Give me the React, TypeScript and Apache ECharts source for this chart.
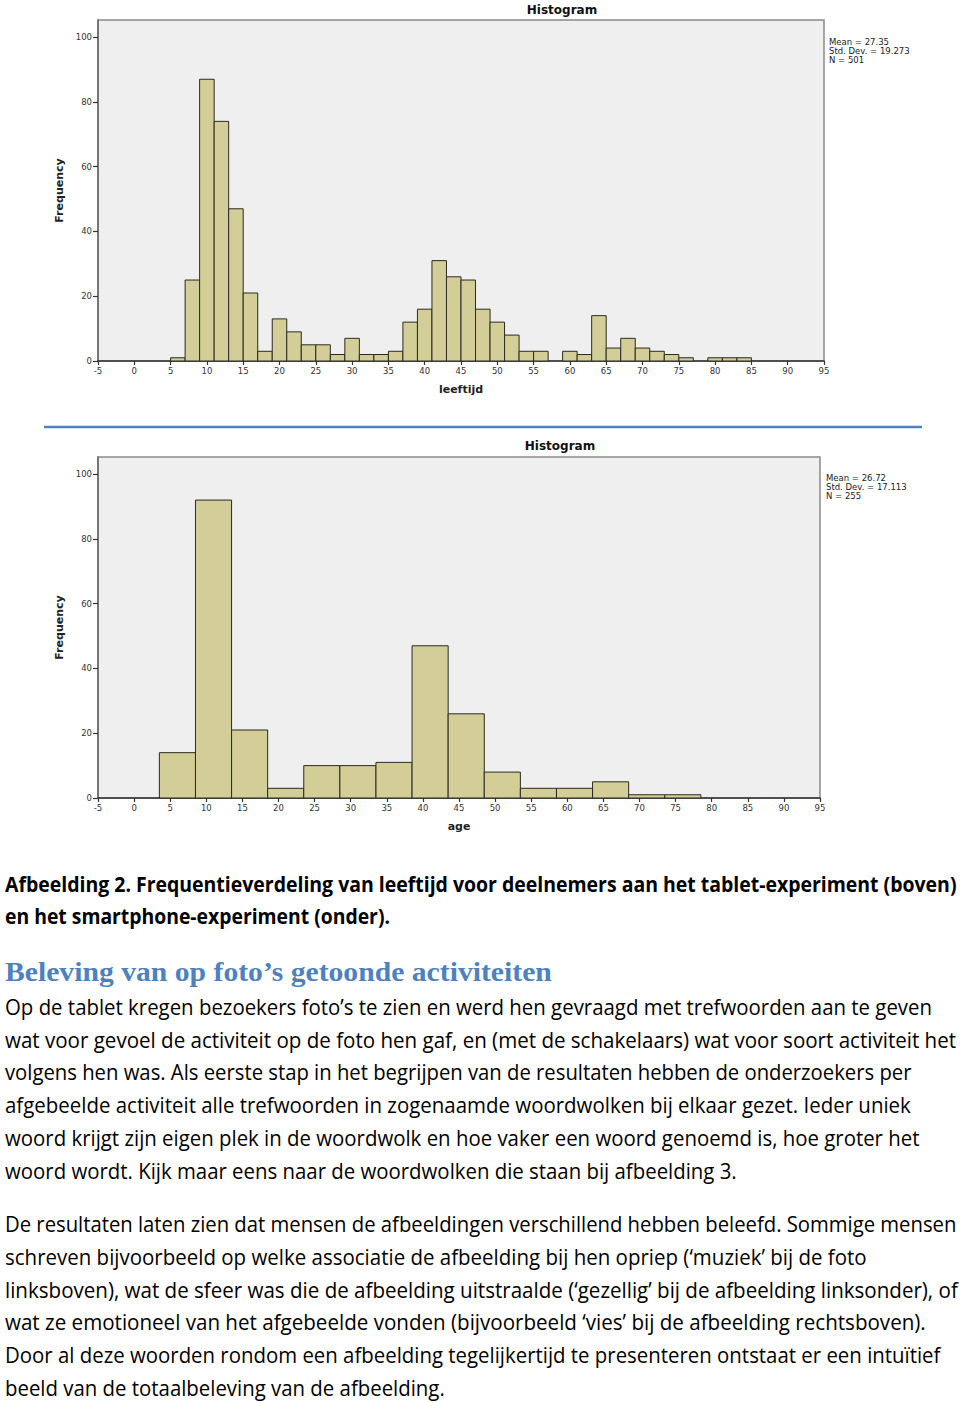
import React, { useEffect, useRef } from "react";
import * as echarts from "echarts";

// ---------- DATA ----------
const chartTitle = "Histogram";
const yAxisName = "Frequency";

const tabletAxisName = "leeftijd";
const tabletBinStart = 5;
const tabletBinWidth = 2;
const tabletCounts = [
  1, 25, 87, 74, 47, 21, 3, 13, 9, 5,
  5, 2, 7, 2, 2, 3, 12, 16, 31, 26,
  25, 16, 12, 8, 3, 3, 0, 3, 2, 14,
  4, 7, 4, 3, 2, 1, 0, 1, 1, 1,
];
const tabletStats = ["Mean = 27.35", "Std. Dev. = 19.273", "N = 501"];

const phoneAxisName = "age";
const phoneBinStart = 3.5;
const phoneBinWidth = 5;
const phoneCounts = [14, 92, 21, 3, 10, 10, 11, 47, 26, 8, 3, 3, 5, 1, 1];
const phoneStats = ["Mean = 26.72", "Std. Dev. = 17.113", "N = 255"];

const xMin = -5;
const xMax = 95;
const xInterval = 5;
const yTickValues = [0, 20, 40, 60, 80, 100];

const captionLines = [
  "Afbeelding 2. Frequentieverdeling van leeftijd voor deelnemers aan het tablet-experiment (boven)",
  "en het smartphone-experiment (onder).",
];
const headingText = "Beleving van op foto’s getoonde activiteiten";
const paragraph1 = [
  "Op de tablet kregen bezoekers foto’s te zien en werd hen gevraagd met trefwoorden aan te geven",
  "wat voor gevoel de activiteit op de foto hen gaf, en (met de schakelaars) wat voor soort activiteit het",
  "volgens hen was. Als eerste stap in het begrijpen van de resultaten hebben de onderzoekers per",
  "afgebeelde activiteit alle trefwoorden in zogenaamde woordwolken bij elkaar gezet. Ieder uniek",
  "woord krijgt zijn eigen plek in de woordwolk en hoe vaker een woord genoemd is, hoe groter het",
  "woord wordt. Kijk maar eens naar de woordwolken die staan bij afbeelding 3.",
];
const paragraph2 = [
  "De resultaten laten zien dat mensen de afbeeldingen verschillend hebben beleefd. Sommige mensen",
  "schreven bijvoorbeeld op welke associatie de afbeelding bij hen opriep (‘muziek’ bij de foto",
  "linksboven), wat de sfeer was die de afbeelding uitstraalde (‘gezellig’ bij de afbeelding linksonder), of",
  "wat ze emotioneel van het afgebeelde vonden (bijvoorbeeld ‘vies’ bij de afbeelding rechtsboven).",
  "Door al deze woorden rondom een afbeelding tegelijkertijd te presenteren ontstaat er een intuïtief",
  "beeld van de totaalbeleving van de afbeelding.",
];

// ---------- LAYOUT ----------
const captionY = [884, 916];
const captionRight = [957, 390];
const headingY = 972;
const headingRight = 552;
const p1Y = [1007, 1040, 1072, 1105, 1138, 1171];
const p1Right = [933, 957, 912, 911, 920, 737];
const p2Y = [1224, 1257, 1290, 1322, 1355, 1388];
const p2Right = [957, 867, 958, 926, 941, 445];
const textLeft = 5;

const bodyFamily = '"Open Sans", "Noto Sans", sans-serif';
const headFamily = '"Liberation Serif", "DejaVu Serif", serif';
const chartFamily = '"DejaVu Sans", sans-serif';

function bins(start: number, width: number, counts: number[]) {
  const out: number[][] = [];
  counts.forEach((c, i) => {
    if (c > 0) out.push([start + i * width, start + (i + 1) * width, c]);
  });
  return out;
}

let measureCtx: CanvasRenderingContext2D | null = null;
function fitScale(text: string, font: string, target: number) {
  if (!measureCtx) measureCtx = document.createElement("canvas").getContext("2d");
  if (!measureCtx) return 1;
  measureCtx.font = font;
  const w = measureCtx.measureText(text).width;
  return w > 0 ? target / w : 1;
}

function textLine(text: string, y: number, right: number, size: number, family: string, weight: string, fill: string) {
  const font = `${weight} ${size}px ${family}`;
  const s = fitScale(text, font, right - textLeft);
  return {
    type: "text",
    x: textLeft,
    y,
    scaleX: s,
    silent: true,
    style: {
      text,
      fontSize: size,
      fontFamily: family,
      fontWeight: weight,
      fill,
      align: "left",
      verticalAlign: "middle",
    },
  };
}

const histItem = (params: any, api: any) => {
  const s = api.value(0);
  const e = api.value(1);
  const c = api.value(2);
  const p0 = api.coord([s, c]);
  const p1 = api.coord([e, 0]);
  return {
    type: "rect",
    shape: { x: p0[0], y: p0[1], width: p1[0] - p0[0], height: p1[1] - p0[1] },
    style: { fill: "#d3ce97", stroke: "#2a2a22", lineWidth: 1 },
  };
};

function xAxisCfg(gridIndex: number, name: string) {
  return {
    type: "value",
    gridIndex,
    min: xMin,
    max: xMax,
    interval: xInterval,
    name,
    nameLocation: "middle",
    nameGap: 23,
    nameTextStyle: { fontFamily: chartFamily, fontSize: 11, fontWeight: "bold", color: "#222" },
    axisLine: { show: true, onZero: false, lineStyle: { color: "#333", width: 1.5 } },
    axisTick: { show: true, inside: false, length: 4, lineStyle: { color: "#333", width: 1.2 } },
    axisLabel: { fontFamily: chartFamily, fontSize: 8.5, color: "#333", margin: 5 },
    splitLine: { show: false },
  };
}

function yAxisCfg(gridIndex: number) {
  return {
    type: "value",
    gridIndex,
    min: 0,
    max: 105.3,
    name: yAxisName,
    nameLocation: "middle",
    nameGap: 30,
    nameTextStyle: { fontFamily: chartFamily, fontSize: 11, fontWeight: "bold", color: "#222" },
    axisLine: { show: true, onZero: false, lineStyle: { color: "#666", width: 1.5 } },
    axisTick: { show: true, inside: false, length: 5, customValues: yTickValues, lineStyle: { color: "#333", width: 1.2 } },
    axisLabel: { fontFamily: chartFamily, fontSize: 8.5, color: "#333", margin: 6, customValues: yTickValues },
    splitLine: { show: false },
  };
}

function statsTexts(lines: string[], x: number, y0: number) {
  return lines.map((t, i) => ({
    type: "text",
    x,
    y: y0 + i * 9,
    silent: true,
    style: { text: t, fontSize: 8.5, fontFamily: chartFamily, fill: "#222", align: "left", verticalAlign: "middle" },
  }));
}

function titleText(x: number, y: number) {
  return {
    type: "text",
    x,
    y,
    silent: true,
    style: { text: chartTitle, fontSize: 12, fontWeight: "bold", fontFamily: chartFamily, fill: "#111", align: "center", verticalAlign: "middle" },
  };
}

export default function App() {
  const ref = useRef<HTMLDivElement>(null);

  useEffect(() => {
    if (!ref.current) return;
    const chart = echarts.init(ref.current, null, { renderer: "svg" });

    const graphics: any[] = [
      titleText(562, 10),
      titleText(560, 446),
      ...statsTexts(tabletStats, 829, 42),
      ...statsTexts(phoneStats, 826, 478),
      {
        type: "line",
        silent: true,
        shape: { x1: 44, y1: 427, x2: 922, y2: 427 },
        style: { stroke: "#4f81bd", lineWidth: 2.5 },
      },
      ...captionLines.map((t, i) => textLine(t, captionY[i], captionRight[i], 21, bodyFamily, "bold", "#000")),
      textLine(headingText, headingY, headingRight, 27, headFamily, "bold", "#4f81bd"),
      ...paragraph1.map((t, i) => textLine(t, p1Y[i], p1Right[i], 21, bodyFamily, "normal", "#000")),
      ...paragraph2.map((t, i) => textLine(t, p2Y[i], p2Right[i], 21, bodyFamily, "normal", "#000")),
    ];

    chart.setOption({
      animation: false,
      backgroundColor: "#ffffff",
      grid: [
        { left: 98, top: 20, width: 726, height: 341, show: true, backgroundColor: "#efefef", borderColor: "#8a8a8a", borderWidth: 1.5 },
        { left: 98, top: 457, width: 722, height: 341, show: true, backgroundColor: "#efefef", borderColor: "#8a8a8a", borderWidth: 1.5 },
      ],
      xAxis: [xAxisCfg(0, tabletAxisName), xAxisCfg(1, phoneAxisName)],
      yAxis: [yAxisCfg(0), yAxisCfg(1)],
      series: [
        {
          type: "custom",
          xAxisIndex: 0,
          yAxisIndex: 0,
          renderItem: histItem,
          encode: { x: [0, 1], y: 2 },
          data: bins(tabletBinStart, tabletBinWidth, tabletCounts),
        },
        {
          type: "custom",
          xAxisIndex: 1,
          yAxisIndex: 1,
          renderItem: histItem,
          encode: { x: [0, 1], y: 2 },
          data: bins(phoneBinStart, phoneBinWidth, phoneCounts),
        },
      ],
      graphic: graphics,
    });

    return () => chart.dispose();
  }, []);

  return (
    <div
      ref={ref}
      style={{ position: "absolute", left: 0, top: 0, width: 960, height: 1403 }}
    />
  );
}
